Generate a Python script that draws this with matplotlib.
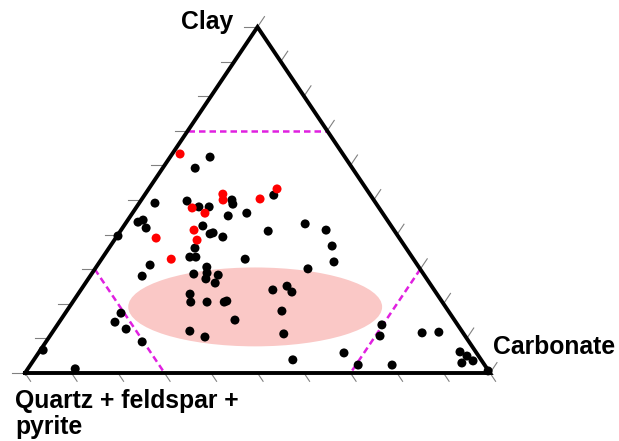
import numpy as np
import matplotlib.pyplot as plt
from matplotlib.patches import Ellipse

# ternary compositions in % (quartz+feldspar+pyrite = 100 - clay - carbonate)
black_clay = [62.4, 59.2, 50.0, 48.8, 51.4, 49.1, 49.7, 48.0, 48.0, 45.4,
              46.2, 43.6, 44.2, 41.9, 42.5, 40.2, 40.5, 39.3, 41.0, 39.6,
              36.1, 33.5, 33.5, 31.2, 32.9, 30.6, 28.0, 28.6, 28.9, 27.2,
              28.3, 26.0, 22.8, 20.5, 20.5, 20.5, 20.8, 24.0, 25.1, 23.4,
              17.9, 15.3, 12.1, 10.4, 11.3, 3.8, 17.3, 14.7, 12.7, 9.0,
              43.1, 41.3, 36.7, 32.1, 30.1, 5.8, 2.3, 2.3, 13.9, 10.7,
              6.6, 1.2, 11.6, 11.8, 6.1, 4.9, 3.5, 2.9, 0.6]
black_carb = [8.6, 7.0, 19.5, 20.3, 27.8, 3.4, 10.0, 13.4, 15.6, 21.0,
              24.6, 2.5, 3.3, 5.1, 17.0, 19.7, 20.2, 22.9, 31.8, 0.2,
              18.5, 18.7, 20.0, 11.3, 30.9, 23.8, 11.2, 22.0, 24.7, 25.3,
              27.4, 27.9, 24.1, 25.4, 28.9, 32.6, 33.0, 41.3, 43.8, 45.7,
              46.3, 37.5, 29.4, 33.5, 50.0, 55.7, 12.0, 12.0, 15.4, 20.7,
              38.7, 44.1, 47.7, 50.4, 45.8, 65.7, 70.5, 77.8, 69.8, 71.0,
              0.6, 10.2, 79.6, 83.1, 90.5, 92.6, 94.6, 92.5, 99.3]

red_clay = [63.3, 51.7, 50.0, 53.2, 50.3, 47.7, 46.2, 41.3, 38.4, 39.0, 32.9]
red_carb = [1.7, 16.7, 17.6, 27.6, 25.4, 12.1, 15.6, 15.7, 17.8, 8.7, 15.0]

# boundary lines: clay = 70, quartz = 70, carbonate = 70
limit = 70

corner_labels = ['Clay', 'Carbonate', 'Quartz + feldspar +', 'pyrite']


def to_xy(clay, carb):
    clay = np.asarray(clay) / 100.0
    carb = np.asarray(carb) / 100.0
    return carb + clay / 2, clay


fig = plt.figure(figsize=(6.19, 4.41), dpi=100)
ax = fig.add_axes([0, 0, 1, 1])
ax.set_xlim(-25 / 465, 594 / 465)
ax.set_ylim(-68 / 346, 373 / 346)
ax.axis('off')

# pink field
ax.add_patch(Ellipse((0.495, 0.191), 0.546, 0.228, facecolor='#fac8c6',
                     edgecolor='none', zorder=1))

# magenta dashed limits
seg = [
    to_xy([limit, limit], [0, 100 - limit]),
    to_xy([100 - limit, 0], [0, 100 - limit]),
    to_xy([100 - limit, 0], [limit, limit]),
]
for xs, ys in seg:
    ax.plot(xs, ys, color='#e020e0', lw=1.8, dashes=(2.6, 1.6), zorder=2)

# ticks
ticks = np.arange(0, 101, 10)
for t in ticks:
    # left edge (clay), horizontal to the left
    x0, y0 = to_xy(t, 0)
    ax.plot([x0, x0 - 0.028], [y0, y0], color='#808080', lw=0.8, zorder=2)
    # bottom edge, parallel to right edge
    x0, y0 = to_xy(0, t)
    ax.plot([x0, x0 + 0.012], [y0, y0 - 0.024], color='#808080', lw=0.8, zorder=2)
    # right edge, parallel to left edge
    x0, y0 = to_xy(t, 100 - t)
    ax.plot([x0, x0 + 0.015], [y0, y0 + 0.03], color='#808080', lw=0.8, zorder=2)

# triangle outline
ax.plot([0, 0.5, 1, 0], [0, 1, 0, 0], color='black', lw=2.8,
        solid_joinstyle='miter', zorder=3)

bx, by = to_xy(black_clay, black_carb)
ax.scatter(bx, by, s=42, color='black', edgecolors='none', zorder=4, clip_on=False)
rx, ry = to_xy(red_clay, red_carb)
ax.scatter(rx, ry, s=42, color='#ff0000', edgecolors='none', zorder=5, clip_on=False)

font = dict(family='Liberation Sans', fontweight='bold', fontsize=17.8)
ax.text(0.4473, 0.9942, corner_labels[0], ha='right', va='baseline', **font)
ax.text(1.0065, 0.0549, corner_labels[1], ha='left', va='baseline', **font)
ax.text(-0.0215, -0.1012, corner_labels[2], ha='left', va='baseline', **font)
ax.text(-0.0215, -0.1763, corner_labels[3], ha='left', va='baseline', **font)

fig.savefig('out.png', dpi=100)
